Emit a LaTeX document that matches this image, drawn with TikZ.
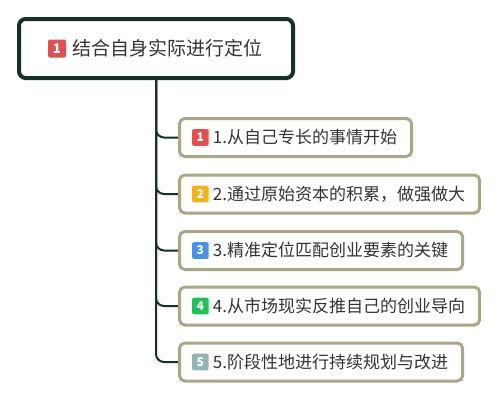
\documentclass[tikz,border=0pt]{standalone}
\usepackage{fontspec}
\setmainfont{Noto Sans CJK SC}
\usetikzlibrary{positioning,backgrounds}

\definecolor{rootline}{RGB}{22,48,42}
\definecolor{childline}{RGB}{170,166,136}
\definecolor{inktext}{RGB}{51,51,51}
\definecolor{badgered}{RGB}{224,80,80}
\definecolor{badgeorange}{RGB}{240,178,30}
\definecolor{badgeblue}{RGB}{76,146,226}
\definecolor{badgegreen}{RGB}{34,192,88}
\definecolor{badgegrey}{RGB}{146,180,180}

\tikzset{
    rootbox/.style={draw=rootline, line width=3pt, fill=white, rounded corners=5pt, outer sep=0pt,
        inner xsep=23.25pt, minimum height=44.25pt, text=inktext, font=\fontsize{14.25pt}{16pt}\selectfont},
    childbox/.style={draw=childline, line width=2.25pt, fill=white, rounded corners=4pt, outer sep=0pt,
        inner xsep=11pt, minimum height=28.5pt, anchor=west, text=inktext, font=\fontsize{12.75pt}{15pt}\selectfont},
    numbadge/.style={fill=#1, rounded corners=1.5pt, inner sep=0pt, outer sep=0pt, minimum size=12.5pt,
        text=white, font=\bfseries\fontsize{9pt}{10pt}\selectfont},
    branch/.style={draw=rootline, line width=1.5pt, rounded corners=6pt},
}

\begin{document}
\begin{tikzpicture}[x=0.75pt,y=0.75pt,yscale=-1]
    \useasboundingbox (0,0) rectangle (498,400);

    % Root
    \node[rootbox] (root) at (156,48.5) {\hspace*{16.5pt}结合自身实际进行定位};
    \node[numbadge=badgered, minimum size=13.5pt, font=\bfseries\fontsize{10pt}{11pt}\selectfont, right=21.75pt of root.west] (rootnum) {1};

    % Children
    \node[childbox] (c1) at (179.5,137.5) {\hspace*{14pt}1.从自己专长的事情开始};
    \node[childbox] (c2) at (179.5,194) {\hspace*{14pt}2.通过原始资本的积累，做强做大};
    \node[childbox] (c3) at (179.5,250.5) {\hspace*{14pt}3.精准定位匹配创业要素的关键};
    \node[childbox] (c4) at (179.5,306) {\hspace*{14pt}4.从市场现实反推自己的创业导向};
    \node[childbox] (c5) at (179.5,362) {\hspace*{14pt}5.阶段性地进行持续规划与改进};

    % Number badges
    \node[numbadge=badgered, right=9.4pt of c1.west] (n1) {1};
    \node[numbadge=badgeorange, right=9.4pt of c2.west] (n2) {2};
    \node[numbadge=badgeblue, right=9.4pt of c3.west] (n3) {3};
    \node[numbadge=badgegreen, right=9.4pt of c4.west] (n4) {4};
    \node[numbadge=badgegrey, right=9.4pt of c5.west] (n5) {5};

    % Branches
    \begin{scope}[on background layer]
        \fill[white] (0,0) rectangle (498,400);
        \draw[branch] (root.south) |- (c1.west);
        \draw[branch] (root.south) |- (c2.west);
        \draw[branch] (root.south) |- (c3.west);
        \draw[branch] (root.south) |- (c4.west);
        \draw[branch] (root.south) |- (c5.west);
    \end{scope}

\end{tikzpicture}
\end{document}
